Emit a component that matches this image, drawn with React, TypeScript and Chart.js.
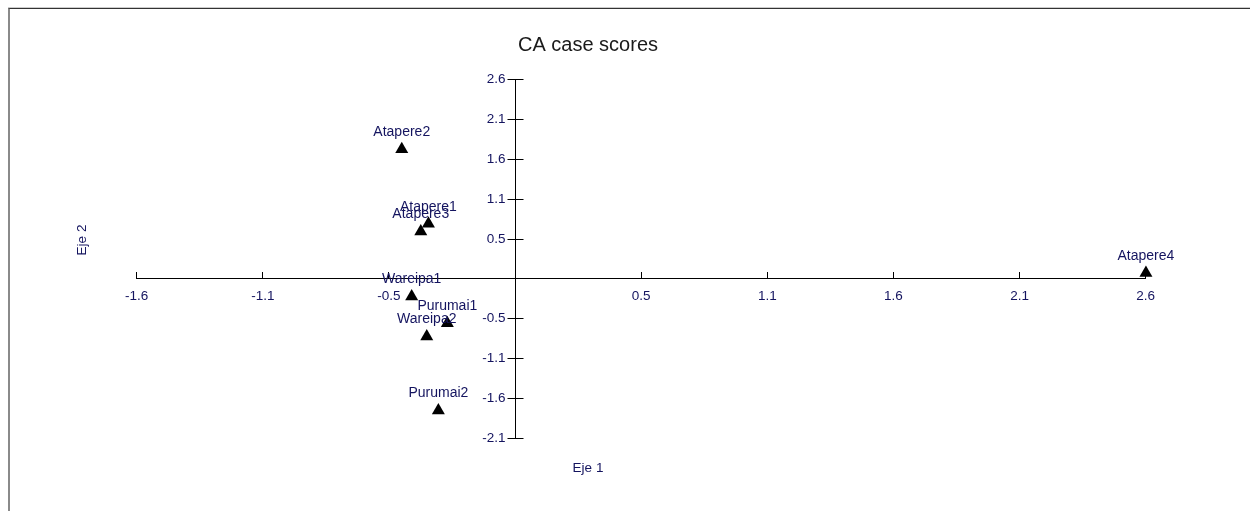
import React, { useEffect, useRef } from "react";
import { Chart, registerables } from "chart.js";

Chart.register(...registerables);

// ---- data ----
const caseNames = ["Atapere1", "Atapere2", "Atapere3", "Atapere4", "Wareipa1", "Wareipa2", "Purumai1", "Purumai2"];
const axis1Scores = [-0.362, -0.4735, -0.394, 2.636, -0.432, -0.369, -0.283, -0.3205];
const axis2Scores = [0.724, 1.708, 0.621, 0.07, -0.238, -0.77, -0.594, -1.748];

const tickStep = 0.527;
const xTickSteps = [-3, -2, -1, 1, 2, 3, 4, 5];
const xTickLabels = ["-1.6", "-1.1", "-0.5", "0.5", "1.1", "1.6", "2.1", "2.6"];
const yTickSteps = [-4, -3, -2, -1, 1, 2, 3, 4, 5];
const yTickLabels = ["-2.1", "-1.6", "-1.1", "-0.5", "0.5", "1.1", "1.6", "2.1", "2.6"];

const chartTitle = "CA case scores";
const xAxisTitle = "Eje 1";
const yAxisTitle = "Eje 2";

const textColor = "#14145f";
const fontFamily = "Arial, 'Liberation Sans', sans-serif";

function labelFor(steps: number[], labels: string[], value: number) {
  const idx = steps.findIndex((k) => Math.abs(k * tickStep - value) < 1e-6);
  return idx >= 0 ? labels[idx] : "";
}

const textPlugin = {
  id: "textPlugin",
  afterDatasetsDraw(chart: any) {
    const ctx = chart.ctx;
    const xs = chart.scales.x;
    const ys = chart.scales.y;
    ctx.save();
    // y axis tick marks (crossing the axis) and labels
    const x0 = Math.round(xs.getPixelForValue(0)) + 0.5;
    ctx.strokeStyle = "#000000";
    ctx.lineWidth = 1;
    ctx.font = `13.5px ${fontFamily}`;
    ctx.fillStyle = textColor;
    ctx.textAlign = "right";
    ctx.textBaseline = "middle";
    yTickSteps.forEach((k, i) => {
      const py = Math.round(ys.getPixelForValue(k * tickStep)) + 0.5;
      ctx.beginPath();
      ctx.moveTo(x0 - 8, py);
      ctx.lineTo(x0 + 8, py);
      ctx.stroke();
      ctx.fillText(yTickLabels[i], x0 - 10, py);
    });
    // point labels
    const meta = chart.getDatasetMeta(0);
    ctx.font = `14px ${fontFamily}`;
    ctx.fillStyle = textColor;
    ctx.textAlign = "center";
    meta.data.forEach((el: any, i: number) => {
      ctx.fillText(caseNames[i], el.x, el.y - 17);
    });
    // title
    ctx.fillStyle = "#1a1a1a";
    ctx.font = `20px ${fontFamily}`;
    ctx.fillText(chartTitle, 578, 36);
    // axis titles
    ctx.fillStyle = textColor;
    ctx.font = `13.5px ${fontFamily}`;
    ctx.fillText(xAxisTitle, 578, 459);
    ctx.translate(72, 231);
    ctx.rotate(-Math.PI / 2);
    ctx.fillText(yAxisTitle, 0, 0);
    ctx.restore();
  },
};

export default function App() {
  const ref = useRef<HTMLCanvasElement | null>(null);

  useEffect(() => {
    if (!ref.current) return;
    const chart = new Chart(ref.current, {
      type: "scatter",
      data: {
        datasets: [
          {
            data: axis1Scores.map((x, i) => ({ x, y: axis2Scores[i] })),
            pointStyle: "triangle",
            pointRadius: 7.5,
            backgroundColor: "#000000",
            borderColor: "#000000",
            borderWidth: 0,
            clip: false as any,
          },
        ],
      },
      options: {
        animation: false,
        responsive: false,
        events: [],
        layout: { padding: { left: 126.7, right: 104.3, top: 70.3, bottom: 73.3 } },
        plugins: {
          legend: { display: false },
          title: { display: false },
          tooltip: { enabled: false },
        },
        scales: {
          x: {
            type: "linear",
            position: { y: 0 } as any,
            min: xTickSteps[0] * tickStep,
            max: xTickSteps[xTickSteps.length - 1] * tickStep,
            afterBuildTicks: (scale: any) => {
              scale.ticks = xTickSteps.map((k) => ({ value: k * tickStep }));
            },
            grid: { drawOnChartArea: false, drawTicks: true, tickLength: -7, color: "#000000" },
            border: { display: true, color: "#000000", width: 1 },
            ticks: {
              autoSkip: false,
              maxRotation: 0,
              padding: 17,
              color: textColor,
              font: { family: fontFamily, size: 13.5 },
              callback: (v: any) => labelFor(xTickSteps, xTickLabels, Number(v)),
            },
          },
          y: {
            type: "linear",
            position: { x: 0 } as any,
            min: yTickSteps[0] * tickStep,
            max: yTickSteps[yTickSteps.length - 1] * tickStep,
            afterBuildTicks: (scale: any) => {
              scale.ticks = yTickSteps.map((k) => ({ value: k * tickStep }));
            },
            grid: { drawOnChartArea: false, drawTicks: false },
            border: { display: true, color: "#000000", width: 1 },
            ticks: { display: false },
          },
        },
      },
      plugins: [textPlugin],
    });
    return () => chart.destroy();
  }, []);

  return (
    <div
      style={{
        position: "fixed",
        left: 8,
        top: 8,
        width: 1300,
        height: 600,
        background: "#ffffff",
        borderLeft: "2px solid #8a8a8a",
        borderTop: "1px solid #333333",
        boxShadow: "0 -1px 0 #cccccc",
      }}
    >
      <canvas ref={ref} width={1240} height={502} style={{ display: "block" }} />
    </div>
  );
}
